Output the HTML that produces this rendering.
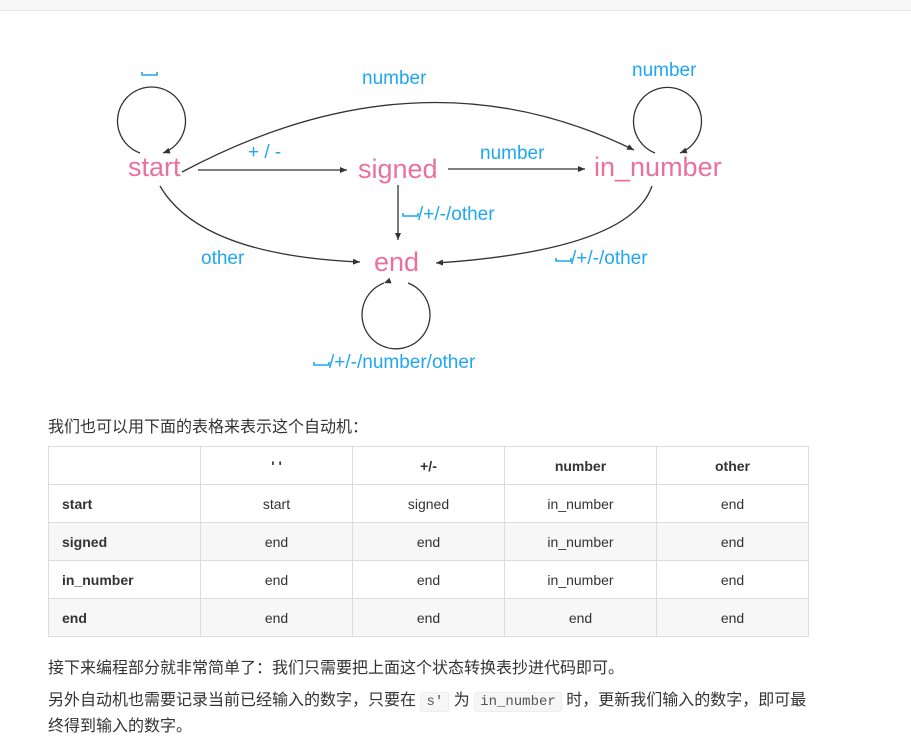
<!DOCTYPE html>
<html><head><meta charset="utf-8"><style>
body{margin:0;width:911px;height:738px;background:#fff;position:relative;overflow:hidden;font-family:"Liberation Sans","Noto Sans CJK SC",sans-serif;color:#333}
.top{position:absolute;left:0;top:0;width:911px;height:10px;background:#f6f6f6;border-bottom:1px solid #e6e6e6}
svg{position:absolute;left:0;top:0}
.p{position:absolute;left:48px;font-size:16px;color:#333;white-space:nowrap}
table{position:absolute;left:48px;top:446px;border-collapse:collapse;font-size:14px}
td,th{border:1px solid #dcdcdc;width:151px;height:37px;padding:0;text-align:center;color:#333}
th{font-weight:bold}
td.h{text-align:left;padding-left:13px;width:138px;font-weight:bold}
tr.g td{background:#f7f7f7}
code{font-family:"Liberation Mono",monospace;font-size:14px;background:#f6f6f6;border:1px solid #eee;border-radius:3px;padding:1px 5px;color:#555}
</style></head><body>
<div class="top"></div>
<svg width="911" height="400" viewBox="0 0 911 400">
<defs><marker id="a" markerWidth="8" markerHeight="8" refX="7" refY="4" orient="auto" markerUnits="userSpaceOnUse"><path d="M0,1 L7,4 L0,7z" fill="#333"/></marker></defs>
<g fill="none" stroke="#333" stroke-width="1.3">
<path d="M140,153 A34,34 0 1 1 163,153" marker-end="url(#a)"/>
<path d="M655,153 A34,34 0 1 1 680,153" marker-end="url(#a)"/>
<path d="M384,283 A34,34 0 1 0 408,283" marker-start="url(#a)"/>
<path d="M182,172 Q420,45 634,150" marker-end="url(#a)"/>
<path d="M198,170 L347,170" marker-end="url(#a)"/>
<path d="M448,169 L585,169" marker-end="url(#a)"/>
<path d="M398,185 L398,240" marker-end="url(#a)"/>
<path d="M160,186 Q200,255 360,262" marker-end="url(#a)"/>
<path d="M652,186 Q630,250 436,263" marker-end="url(#a)"/>
</g>
<g fill="none" stroke="#1fa7f0" stroke-width="1.6">
<path d="M142,72 V75 H157 V72"/>
<path d="M403,213 V216 H418 V213"/>
<path d="M556,258 V261 H571 V258"/>
<path d="M314,362 V365 H329 V362"/>
</g>
<g font-family="Liberation Sans,sans-serif" font-size="27" fill="#e8729c">
<text x="128" y="176">start</text>
<text x="358" y="178">signed</text>
<text x="594" y="176">in_number</text>
<text x="374" y="271">end</text>
</g>
<g font-family="Liberation Sans,sans-serif" font-size="19" fill="#1fa7f0">
<text x="362" y="84">number</text>
<text x="632" y="76">number</text>
<text x="248" y="158">+ / -</text>
<text x="480" y="159">number</text>
<text x="418" y="220">/+/-/other</text>
<text x="201" y="264">other</text>
<text x="571" y="264">/+/-/other</text>
<text x="329" y="368">/+/-/number/other</text>
</g>
</svg>
<div class="p" style="top:413px">我们也可以用下面的表格来表示这个自动机：</div>
<table>
<tr><th></th><th>' '</th><th>+/-</th><th>number</th><th>other</th></tr>
<tr><td class="h">start</td><td>start</td><td>signed</td><td>in_number</td><td>end</td></tr>
<tr class="g"><td class="h">signed</td><td>end</td><td>end</td><td>in_number</td><td>end</td></tr>
<tr><td class="h">in_number</td><td>end</td><td>end</td><td>in_number</td><td>end</td></tr>
<tr class="g"><td class="h">end</td><td>end</td><td>end</td><td>end</td><td>end</td></tr>
</table>
<div class="p" style="top:654px">接下来编程部分就非常简单了：我们只需要把上面这个状态转换表抄进代码即可。</div>
<div class="p" style="top:686px">另外自动机也需要记录当前已经输入的数字，只要在 <code>s'</code> 为 <code>in_number</code> 时，更新我们输入的数字，即可最</div>
<div class="p" style="top:712px">终得到输入的数字。</div>
</body></html>
